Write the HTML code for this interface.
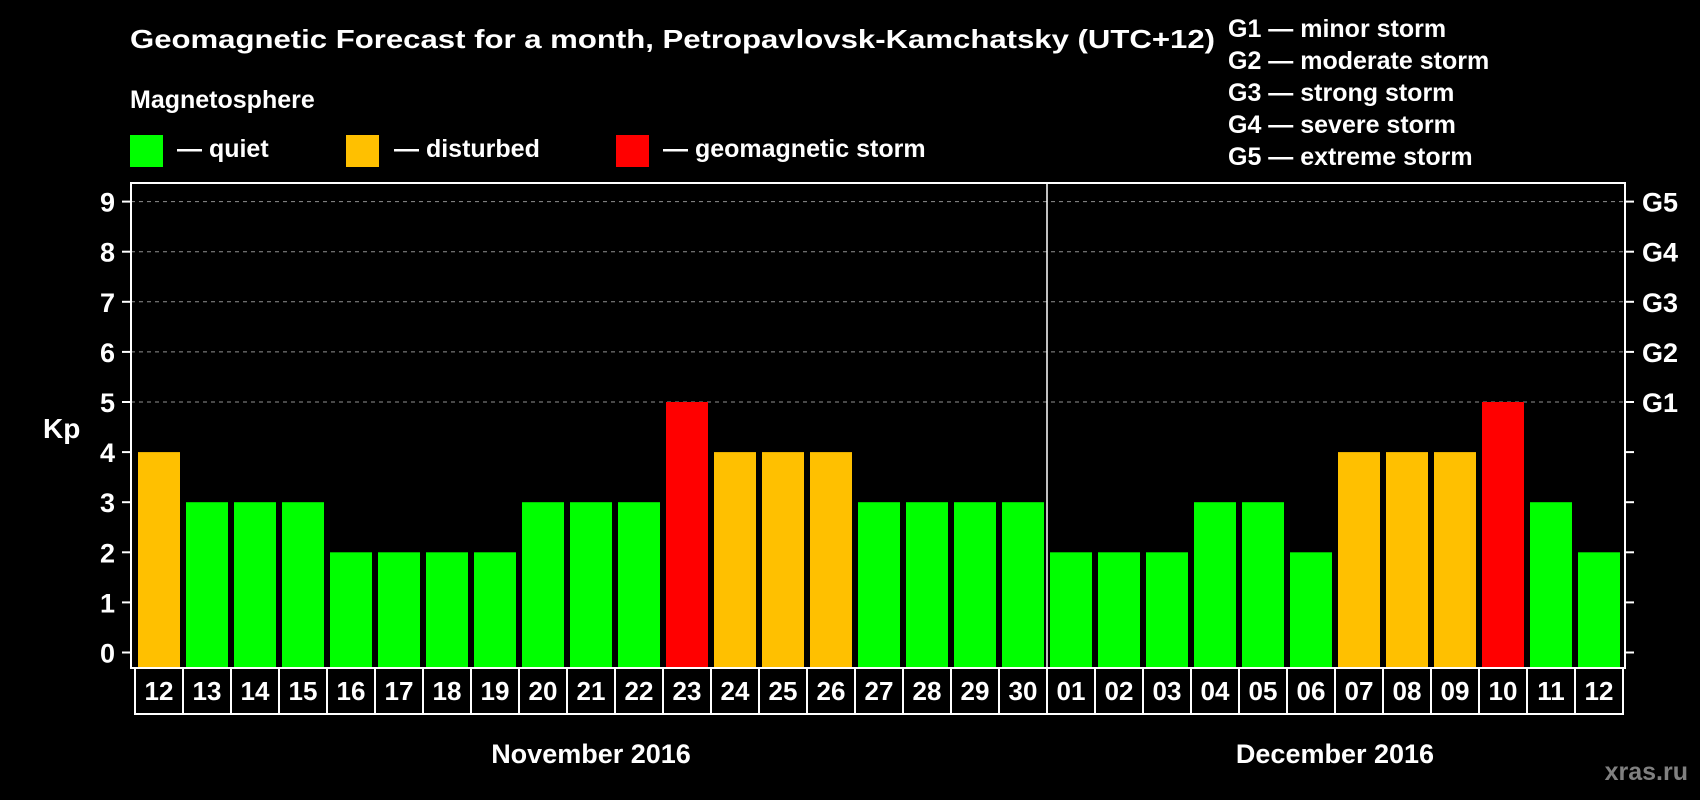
<!DOCTYPE html>
<html><head><meta charset="utf-8"><style>
html,body{margin:0;padding:0;background:#000;}
svg{display:block;font-family:"Liberation Sans",Arial,sans-serif;font-weight:bold;}
</style></head><body>
<svg id="chart" width="1700" height="800" viewBox="0 0 1700 800">
<rect x="0" y="0" width="1700" height="800" fill="#000"/>
<text x="130" y="48" fill="#fff" font-size="26" textLength="1085" lengthAdjust="spacingAndGlyphs">Geomagnetic Forecast for a month, Petropavlovsk-Kamchatsky (UTC+12)</text>
<text x="130" y="108" fill="#fff" font-size="25">Magnetosphere</text>
<rect x="130" y="135" width="33" height="32" fill="#00ff00"/>
<text x="177" y="157" fill="#fff" font-size="25">— quiet</text>
<rect x="346" y="135" width="33" height="32" fill="#ffc000"/>
<text x="394" y="157" fill="#fff" font-size="25">— disturbed</text>
<rect x="616" y="135" width="33" height="32" fill="#ff0000"/>
<text x="663" y="157" fill="#fff" font-size="25">— geomagnetic storm</text>
<g font-size="25" fill="#fff">
<text x="1228" y="37">G1 — minor storm</text>
<text x="1228" y="69">G2 — moderate storm</text>
<text x="1228" y="101">G3 — strong storm</text>
<text x="1228" y="133">G4 — severe storm</text>
<text x="1228" y="165">G5 — extreme storm</text>
</g>
<g id="plot"></g>
<text x="1688" y="780" fill="#808080" font-size="25" text-anchor="end">xras.ru</text>
</svg>
<script>
const days = ["12","13","14","15","16","17","18","19","20","21","22","23","24","25","26","27","28","29","30","01","02","03","04","05","06","07","08","09","10","11","12"];
const kp = [4,3,3,3,2,2,2,2,3,3,3,5,4,4,4,3,3,3,3,2,2,2,3,3,2,4,4,4,5,3,2];
const yTicks = [0,1,2,3,4,5,6,7,8,9];
const gLabels = ["G1","G2","G3","G4","G5"];
const months = ["November 2016","December 2016"];
const monthStart = [0,19];

const NS="http://www.w3.org/2000/svg";
const g=document.getElementById('plot');
const L=131,R=1625,T=183,B=668,X0=135,SLOT=48,BW=42;
const y=v=>652.5-v*50.1;
const x=i=>X0+i*SLOT;
function mk(tag,attrs,parent){const e=document.createElementNS(NS,tag);for(const k in attrs)e.setAttribute(k,attrs[k]);(parent||g).appendChild(e);return e;}
function col(v){return v>=5?"#ff0000":v>=4?"#ffc000":"#00ff00";}

// grid lines 5..9
yTicks.forEach(v=>{
  if(v>=5){const l=mk('line',{x1:L,x2:R,y1:y(v),y2:y(v),stroke:'#909090','stroke-width':1,'stroke-dasharray':'4,4'});
  
  }
  const t=mk('line',{x1:L-9,x2:L,y1:y(v),y2:y(v),stroke:'#fff','stroke-width':2});
  
  
  const t2=mk('line',{x1:R,x2:R+9,y1:y(v),y2:y(v),stroke:'#fff','stroke-width':2});
  
  
  const lb=mk('text',{x:115,y:y(v)+10,fill:'#fff','font-size':27,'text-anchor':'end'});
  lb.textContent=v;
  
  
});
gLabels.forEach((s,i)=>{
  const lb=mk('text',{x:1642,y:y(5+i)+10,fill:'#fff','font-size':27});
  lb.textContent=s;
  
  
});
const kpL=mk('text',{x:43,y:438,fill:'#fff','font-size':28});
kpL.textContent='Kp';



kp.forEach((v,i)=>{
  const r=mk('rect',{x:x(i)+3,y:y(v),width:BW,height:B-y(v),fill:col(v)});
  
  
  const bx=mk('rect',{x:x(i),y:B,width:SLOT,height:46,fill:'none',stroke:'#fff','stroke-width':2});
  
  
  const t=mk('text',{x:x(i)+SLOT/2,y:700,fill:'#fff','font-size':26,'text-anchor':'middle'});
  t.textContent=days[i];
  
  
});
const fr=mk('rect',{x:L,y:T,width:R-L,height:B-T,fill:'none',stroke:'#fff','stroke-width':2});


const dv=mk('line',{x1:x(monthStart[1]),x2:x(monthStart[1]),y1:T,y2:B,stroke:'#fff','stroke-width':1.5});


months.forEach((m,k)=>{
  const s=monthStart[k],e=k+1<monthStart.length?monthStart[k+1]:days.length;
  const t=mk('text',{x:(x(s)+x(e))/2,y:763,fill:'#fff','font-size':27,'text-anchor':'middle'});
  t.textContent=m;
  
  
});
</script>
</body></html>
